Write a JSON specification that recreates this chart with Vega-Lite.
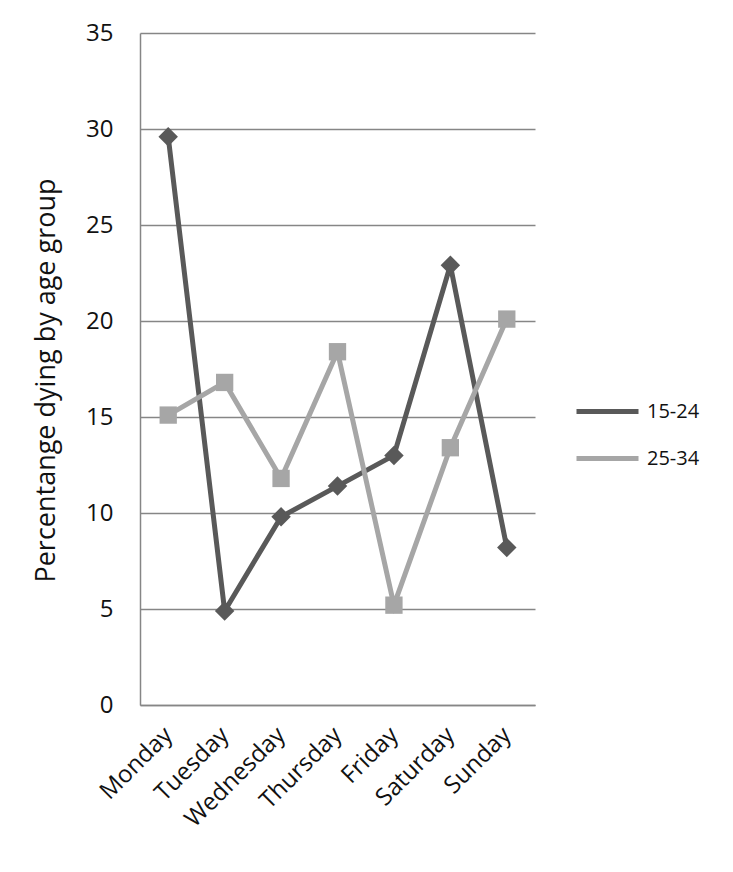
{
  "$schema": "https://vega.github.io/schema/vega-lite/v6.json",
  "width": 395,
  "height": 672,
  "autosize": {"type": "none"},
  "padding": {"left": 140, "top": 33, "right": 198, "bottom": 167},
  "background": "white",
  "config": {
    "view": {"stroke": null},
    "font": "Open Sans",
    "axis": {"labelColor": "#111111", "titleColor": "#111111"}
  },
  "data": {
    "values": [
      {"day": "Monday", "group": "15-24", "value": 29.6},
      {"day": "Tuesday", "group": "15-24", "value": 4.9},
      {"day": "Wednesday", "group": "15-24", "value": 9.8},
      {"day": "Thursday", "group": "15-24", "value": 11.4},
      {"day": "Friday", "group": "15-24", "value": 13.0},
      {"day": "Saturday", "group": "15-24", "value": 22.9},
      {"day": "Sunday", "group": "15-24", "value": 8.2},
      {"day": "Monday", "group": "25-34", "value": 15.1},
      {"day": "Tuesday", "group": "25-34", "value": 16.8},
      {"day": "Wednesday", "group": "25-34", "value": 11.8},
      {"day": "Thursday", "group": "25-34", "value": 18.4},
      {"day": "Friday", "group": "25-34", "value": 5.2},
      {"day": "Saturday", "group": "25-34", "value": 13.4},
      {"day": "Sunday", "group": "25-34", "value": 20.1}
    ]
  },
  "encoding": {
    "x": {
      "field": "day",
      "type": "nominal",
      "sort": ["Monday", "Tuesday", "Wednesday", "Thursday", "Friday", "Saturday", "Sunday"],
      "scale": {"type": "point", "padding": 0.5},
      "axis": {
        "title": null,
        "labelAngle": -45,
        "labelAlign": "right",
        "labelBaseline": "middle",
        "labelFontSize": 24,
        "labelPadding": 26,
        "ticks": false,
        "grid": false,
        "domainColor": "#868686",
        "domainWidth": 1.5
      }
    },
    "y": {
      "field": "value",
      "type": "quantitative",
      "scale": {"domain": [0, 35], "nice": false},
      "axis": {
        "title": "Percentange dying by age group",
        "titleFontSize": 27,
        "titleFontWeight": "normal",
        "titleX": -94,
        "titleY": 347,
        "titleBaseline": "middle",
        "values": [0, 5, 10, 15, 20, 25, 30, 35],
        "labelFontSize": 24,
        "labelPadding": 27,
        "ticks": false,
        "grid": true,
        "gridColor": "#868686",
        "gridWidth": 1.5,
        "gridOpacity": 1,
        "domainColor": "#868686",
        "domainWidth": 1.5
      }
    }
  },
  "layer": [
    {
      "mark": {"type": "line", "strokeWidth": 5},
      "encoding": {
        "color": {
          "field": "group",
          "type": "nominal",
          "scale": {"domain": ["15-24", "25-34"], "range": ["#595959", "#a6a6a6"]},
          "legend": {
            "title": null,
            "orient": "none",
            "legendX": 434,
            "legendY": 345,
            "symbolType": "stroke",
            "symbolSize": 3844,
            "symbolStrokeWidth": 5,
            "labelFontSize": 20,
            "labelColor": "#111111",
            "labelOffset": 6,
            "rowPadding": 3
          }
        }
      }
    },
    {
      "mark": {"type": "point", "filled": true, "opacity": 1},
      "encoding": {
        "color": {"field": "group", "type": "nominal", "scale": {"domain": ["15-24", "25-34"], "range": ["#595959", "#a6a6a6"]}, "legend": null},
        "shape": {"field": "group", "type": "nominal", "scale": {"domain": ["15-24", "25-34"], "range": ["diamond", "square"]}, "legend": null},
        "size": {"field": "group", "type": "nominal", "scale": {"domain": ["15-24", "25-34"], "range": [380, 300]}, "legend": null}
      }
    }
  ],
  "resolve": {"legend": {"color": "independent"}}
}
